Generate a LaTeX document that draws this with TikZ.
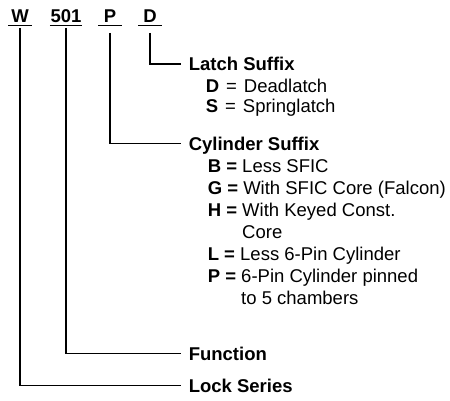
\documentclass[tikz,border=0pt]{standalone}
\usepackage{fontspec}
\setmainfont{Liberation Sans}
\newfontfamily\bfont{Liberation Sans}
\newcommand\bkey[1]{{\bfont\bfseries #1}}
\begin{document}
\begin{tikzpicture}[x=1pt, y=-1pt, line width=1.6pt,
  code/.style = {font=\fontsize{18.5}{22}\bfont\bfseries, anchor=base, inner xsep=0pt, inner ysep=2.5pt, text depth=0pt, minimum width=22pt},
  head/.style = {font=\fontsize{18.5}{22}\bfont\bfseries, anchor=west, inner xsep=7pt, text height=13pt, text depth=0pt},
  item/.style = {font=\fontsize{18.5}{22}\selectfont, anchor=base west, inner sep=0pt}]
  \useasboundingbox (0,0) rectangle (450,400);
  % model number
  \node[code] (w) at (20,22) {W};
  \node[code] (num) at (66,22) {501};
  \node[code] (p) at (110,22) {P};
  \node[code] (d) at (150,22) {D};
  \foreach \n in {w,num,p,d} \draw (\n.south west) -- (\n.south east);
  % headings
  \node[head] (latch) at (181,64) {Latch Suffix};
  \node[head] (cyl) at (181,143.5) {Cylinder Suffix};
  \node[head] (func) at (181,353.5) {Function};
  \node[head] (series) at (181,385.5) {Lock Series};
  % latch suffix
  \node[item] (dl) at (205,92) {\bkey{D}\hspace{7pt}=\hspace{7pt}Deadlatch};
  \node[item] (sl) at (205,112.5) {\bkey{S}\hspace{7pt}=\hspace{7pt}Springlatch};
  % cylinder suffix
  \node[item] (b) at (207,172.5) {\bkey{B =} Less SFIC};
  \node[item] (g) at (207,194.5) {\bkey{G =} With SFIC Core (Falcon)};
  \node[item] (h) at (207,216.5) {\bkey{H =} With Keyed Const.};
  \node[item] (h2) at (207,238.5) {\phantom{\bkey{H =}} Core};
  \node[item] (l) at (207,260.5) {\bkey{L =} Less 6-Pin Cylinder};
  \node[item] (pp) at (207,282.5) {\bkey{P =} 6-Pin Cylinder pinned};
  \node[item] (pp2) at (207,304.5) {\phantom{\bkey{P =}} to 5 chambers};
  \draw[shorten <=2.5pt] (w.south) |- (series.west);
  \draw[shorten <=2.5pt] (num.south) |- (func.west);
  \draw[shorten <=7.5pt] (p.south) |- (cyl.west);
  \draw[shorten <=7.5pt] (d.south) |- (latch.west);
\end{tikzpicture}
\end{document}
